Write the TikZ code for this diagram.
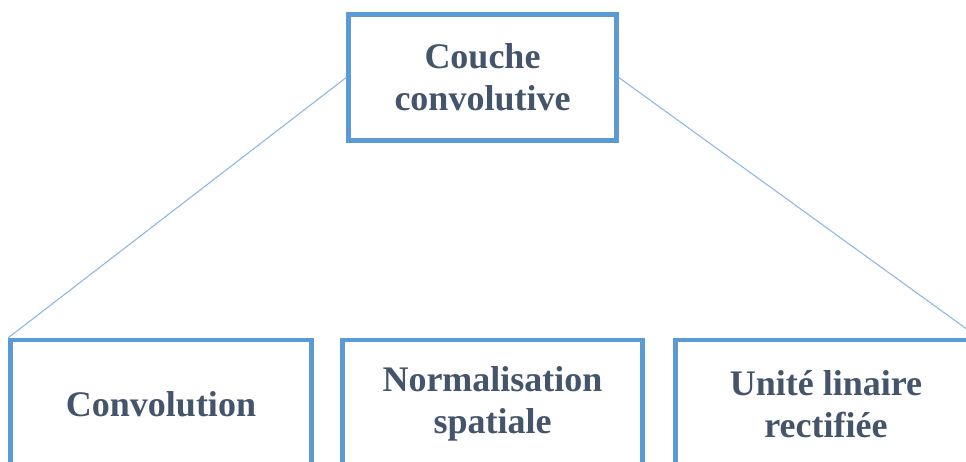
\documentclass[tikz,border=0pt]{standalone}
\usepackage{fontspec}
\setmainfont{Liberation Serif}
\usepackage{xcolor}
\usetikzlibrary{positioning}
\definecolor{boxblue}{HTML}{5B9BD5}
\definecolor{linkblue}{HTML}{8DB8E2}
\definecolor{textslate}{HTML}{44546A}

\begin{document}
\begin{tikzpicture}[
    x=1pt, y=-1pt,
    layer/.style={rectangle, draw=boxblue, line width=4.5pt, fill=white, align=center,
                  text=textslate, font=\fontsize{36}{42}\selectfont\bfseries, inner sep=0pt},
    link/.style={draw=linkblue, line width=1.1pt},
]
    \useasboundingbox (0,0) rectangle (966,462);

    % Top layer
    \node[layer, minimum width=268pt, minimum height=126pt] (couche) at (482.5,77.5) {Couche\\convolutive};

    % Sub-layers
    \node[layer, minimum width=301pt, minimum height=128pt] (conv) at (161,404) {Convolution};
    \node[layer, minimum width=300pt, minimum height=128pt] (norm) at (492.5,404) {Normalisation\\spatiale};
    \node[layer, minimum width=301pt, minimum height=128pt] (relu) at (826,404) {Unité linaire\\rectifiée};

    % Links
    \draw[link] (couche.west) -- (conv.north west);
    \draw[link] (couche.east) -- (relu.north east);
\end{tikzpicture}
\end{document}
